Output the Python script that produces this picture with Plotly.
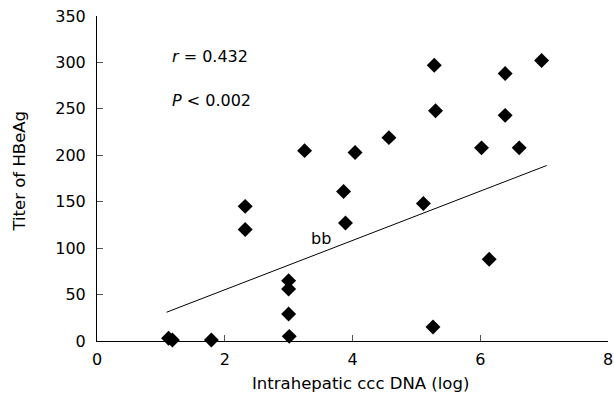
import plotly.graph_objects as go

# Data
x_vals = [1.12, 1.18, 1.79, 2.32, 2.32, 3.00, 3.00, 3.00, 3.01, 3.25, 3.86, 3.89,
          4.04, 4.57, 5.11, 5.26, 5.28, 5.30, 6.02, 6.14, 6.39, 6.39, 6.61, 6.96]
y_vals = [3, 1, 1, 145, 120, 65, 56, 29, 5, 205, 161, 127,
          203, 219, 148, 15, 297, 248, 208, 88, 288, 243, 208, 302]

line_x = [1.09, 7.04]
line_y = [31, 189]

x_ticks = [0, 2, 4, 6, 8]
y_ticks = [0, 50, 100, 150, 200, 250, 300, 350]

x_title = "Intrahepatic ccc DNA (log)"
y_title = "Titer of HBeAg"

FONT = "DejaVu Sans"

fig = go.Figure()
fig.add_trace(go.Scatter(x=line_x, y=line_y, mode="lines",
                         line=dict(color="black", width=1), hoverinfo="skip",
                         showlegend=False))
fig.add_trace(go.Scatter(x=x_vals, y=y_vals, mode="markers",
                         marker=dict(symbol="diamond", size=11.5, color="black"),
                         showlegend=False, cliponaxis=False))

fig.add_annotation(x=1.14, y=306, xref="x", yref="y", text="<i>r</i> = 0.432",
                   showarrow=False, xanchor="left", yanchor="middle",
                   font=dict(family=FONT, size=16, color="black"))
fig.add_annotation(x=1.14, y=259.5, xref="x", yref="y", text="<i>P</i> < 0.002",
                   showarrow=False, xanchor="left", yanchor="middle",
                   font=dict(family=FONT, size=16, color="black"))
fig.add_annotation(x=3.51, y=110, xref="x", yref="y", text="bb",
                   showarrow=False, xanchor="center", yanchor="middle",
                   font=dict(family=FONT, size=16, color="black"))

# axis titles placed as annotations for exact positioning
fig.add_annotation(x=4.12, y=0, xref="x", yref="paper", text=x_title,
                   showarrow=False, xanchor="center", yanchor="middle", yshift=-42,
                   font=dict(family=FONT, size=16.5, color="black"))
fig.add_annotation(x=0, y=182.5, xref="paper", yref="y", text=y_title,
                   showarrow=False, xanchor="center", yanchor="middle", xshift=-77,
                   textangle=-90,
                   font=dict(family=FONT, size=16.5, color="black"))

axis_common = dict(showgrid=False, zeroline=False, showline=True,
                   linecolor="black", linewidth=1, ticks="inside", ticklen=6,
                   tickcolor="#555555", tickwidth=1, automargin=False,
                   tickfont=dict(family=FONT, size=16, color="black"))

fig.update_xaxes(range=[0, 8], tickvals=x_ticks, ticklabelstandoff=4, **axis_common)
fig.update_yaxes(range=[0, 350], tickvals=y_ticks, ticklabelstandoff=7, **axis_common)

fig.update_layout(width=614, height=396,
                  margin=dict(l=97, r=6, t=16, b=55),
                  plot_bgcolor="white", paper_bgcolor="white",
                  font=dict(family=FONT, color="black"))

fig.write_html("out.html", config={"displayModeBar": False},
               post_script="document.body.style.margin='0';")
